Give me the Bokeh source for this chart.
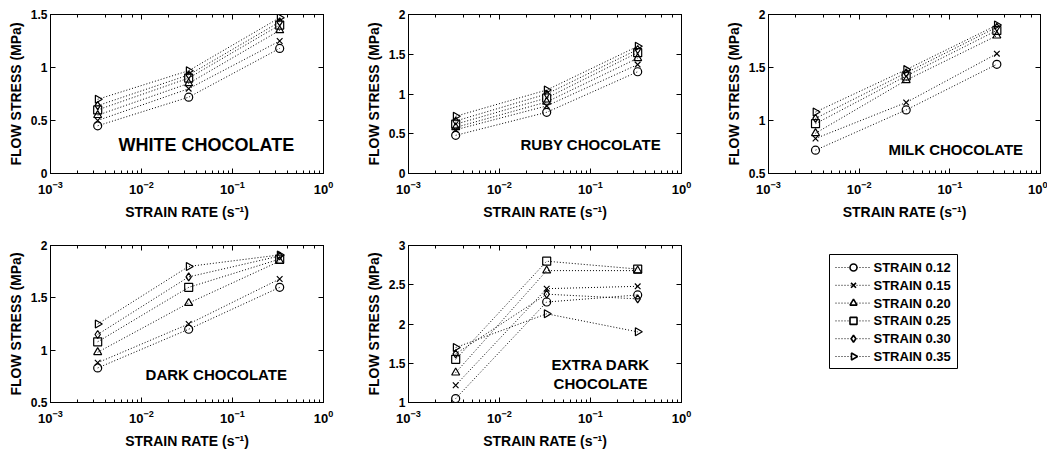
import numpy as np
from bokeh.plotting import figure
from bokeh.models import (Range1d, FixedTicker, LogAxis, LinearAxis, LogTicker,
                          CustomJSTickFormatter, Label)
from bokeh.core.properties import value
from bokeh.layouts import column, row
from bokeh.embed import file_html
from bokeh.resources import INLINE

# ---------------- data ----------------
strain_rates = [0.0033, 0.033, 0.33]
strain_labels = ["STRAIN 0.12", "STRAIN 0.15", "STRAIN 0.20",
                 "STRAIN 0.25", "STRAIN 0.30", "STRAIN 0.35"]
markers = ["circle", "x", "triangle", "square", "diamond", "triangle"]
marker_angles = [0, 0, 0, 0, 0, -np.pi / 2]

# flow stress (MPa), one list per strain, values at the three strain rates
white = [[0.45, 0.72, 1.18], [0.50, 0.80, 1.25], [0.55, 0.85, 1.35],
         [0.60, 0.90, 1.40], [0.64, 0.93, 1.43], [0.70, 0.97, 1.47]]
ruby = [[0.48, 0.77, 1.28], [0.55, 0.85, 1.37], [0.58, 0.90, 1.45],
        [0.62, 0.95, 1.52], [0.66, 1.00, 1.56], [0.72, 1.05, 1.60]]
milk = [[0.72, 1.10, 1.53], [0.83, 1.17, 1.63], [0.88, 1.38, 1.80],
        [0.97, 1.42, 1.85], [1.02, 1.45, 1.88], [1.08, 1.48, 1.90]]
dark = [[0.83, 1.20, 1.60], [0.88, 1.25, 1.68], [0.98, 1.45, 1.85],
        [1.08, 1.60, 1.87], [1.15, 1.70, 1.90], [1.25, 1.80, 1.91]]
extra_dark = [[1.05, 2.28, 2.37], [1.22, 2.45, 2.48], [1.38, 2.68, 2.68],
              [1.55, 2.80, 2.70], [1.62, 2.38, 2.32], [1.70, 2.13, 1.90]]

FONT = "Liberation Sans"
DASH = "1 2"


def make_panel(series, ylo, yhi, yticks, fw, fh, bl, br, bt, bb):
    p = figure(frame_width=fw, frame_height=fh, x_axis_type="log",
               x_range=Range1d(1e-3, 1), y_range=Range1d(ylo, yhi),
               output_backend="svg", toolbar_location=None,
               min_border_left=bl, min_border_right=br,
               min_border_top=bt, min_border_bottom=bb,
               background_fill_color="white", border_fill_color="white")
    p.grid.visible = False
    p.outline_line_color = "black"
    p.outline_line_width = 1

    for vals, mk, ang in zip(series, markers, marker_angles):
        p.line(strain_rates, vals, line_color="black", line_width=1,
               line_dash=DASH)
        p.scatter(strain_rates, vals, marker=mk, angle=ang, size=8,
                  line_color="black", fill_color=None, line_width=1.2)

    xa = p.xaxis[0]
    ya = p.yaxis[0]
    ya.ticker = FixedTicker(ticks=yticks, minor_ticks=[])
    ya.formatter = CustomJSTickFormatter(code="return tick.toString();")
    for ax in (xa, ya):
        ax.axis_line_color = "black"
        ax.major_tick_in = 5
        ax.major_tick_out = 0
        ax.minor_tick_in = 3
        ax.minor_tick_out = 0
        ax.major_tick_line_color = "black"
        ax.minor_tick_line_color = "black"
        ax.major_label_text_font = FONT
        ax.major_label_text_font_style = "bold"
        ax.major_label_text_color = "black"
        ax.axis_label_text_font = FONT
        ax.axis_label_text_font_style = "bold"
        ax.axis_label_text_font_size = "14px"
        ax.axis_label_text_color = "black"
    xa.major_label_text_font_size = "13px"
    ya.major_label_text_font_size = "12px"
    ya.minor_tick_line_color = None
    ya.major_label_standoff = 3
    ya.axis_label_standoff = 4
    xa.major_label_standoff = 7
    xa.axis_label_standoff = 7
    xa.axis_label = "STRAIN RATE (s\u207b\u00b9)"
    ya.axis_label = "FLOW STRESS (MPa)"

    # box ticks on top and right (no labels)
    top = LogAxis(ticker=LogTicker(), major_tick_in=5, major_tick_out=0,
                  minor_tick_in=3, minor_tick_out=0, major_label_standoff=0,
                  formatter=CustomJSTickFormatter(code="return '';"),
                  axis_line_color="black")
    right = LinearAxis(ticker=FixedTicker(ticks=yticks, minor_ticks=[]),
                       major_tick_in=5, major_tick_out=0,
                       minor_tick_line_color=None, major_label_standoff=0,
                       formatter=CustomJSTickFormatter(code="return '';"),
                       axis_line_color="black")
    p.add_layout(top, "above")
    p.add_layout(right, "right")
    return p


def add_title(p, text, x, y, size, align="left"):
    p.add_layout(Label(x=x, y=y, text=text, text_font=FONT,
                       text_font_style="bold", text_font_size=size,
                       text_color="black", text_align=align,
                       text_baseline="middle"))


p1 = make_panel(white, 0, 1.5, [0, 0.5, 1, 1.5], 273, 159, 50, 35, 14, 52)
add_title(p1, "WHITE CHOCOLATE", 5.6e-3, 0.27, "18px")
p2 = make_panel(ruby, 0, 2, [0, 0.5, 1, 1.5, 2], 273, 159, 50, 27, 14, 52)
add_title(p2, "RUBY CHOCOLATE", 1.7e-2, 0.36, "15px")
p3 = make_panel(milk, 0.5, 2, [0.5, 1, 1.5, 2], 272, 159, 60, 7, 14, 52)
add_title(p3, "MILK CHOCOLATE", 2.1e-2, 0.73, "15px")
p4 = make_panel(dark, 0.5, 2, [0.5, 1, 1.5, 2], 273, 157, 50, 35, 20, 42)
add_title(p4, "DARK CHOCOLATE", 1.11e-2, 0.77, "15px")
p5 = make_panel(extra_dark, 1, 3, [1, 1.5, 2, 2.5, 3], 273, 157, 50, 27, 20, 42)
add_title(p5, "EXTRA DARK", 0.129, 1.48, "15px", align="center")
add_title(p5, "CHOCOLATE", 0.129, 1.24, "15px", align="center")

# legend panel: its frame is measured in pixels (x from left, y from bottom)
LFW, LFH = 272, 157
pl = figure(frame_width=LFW, frame_height=LFH, x_range=Range1d(0, LFW),
            y_range=Range1d(0, LFH), x_axis_type=None, y_axis_type=None,
            output_backend="svg", toolbar_location=None,
            min_border_left=60, min_border_right=7,
            min_border_top=20, min_border_bottom=42, outline_line_color=None)
pl.grid.visible = False

box_l, box_r, box_b, box_t = 61, 189, 34, 148
row0, row_step = 135, 17.8
line_x0, line_x1, mark_x, text_x = 67, 102, 85, 105
n = len(strain_labels)
ys = [row0 - i * row_step for i in range(n)]

pl.quad(left=[box_l], right=[box_r], bottom=[box_b], top=[box_t],
        fill_color="white", line_color="black", line_width=1)
pl.segment(x0=[line_x0] * n, x1=[line_x1] * n, y0=ys, y1=ys,
           line_color="black", line_width=1, line_dash=DASH)
for y, mk, ang in zip(ys, markers, marker_angles):
    pl.scatter([mark_x], [y], marker=mk, angle=ang, size=7,
               line_color="black", fill_color="white", line_width=1.6)
pl.text(x=[text_x] * n, y=ys, text=strain_labels, text_font=value(FONT),
        text_font_style="bold", text_font_size="13px", text_color="black",
        text_baseline="middle", text_align="left")

layout = column(row(p1, p2, p3), row(p4, p5, pl))
open("out.html", "w").write(file_html(layout, INLINE))
